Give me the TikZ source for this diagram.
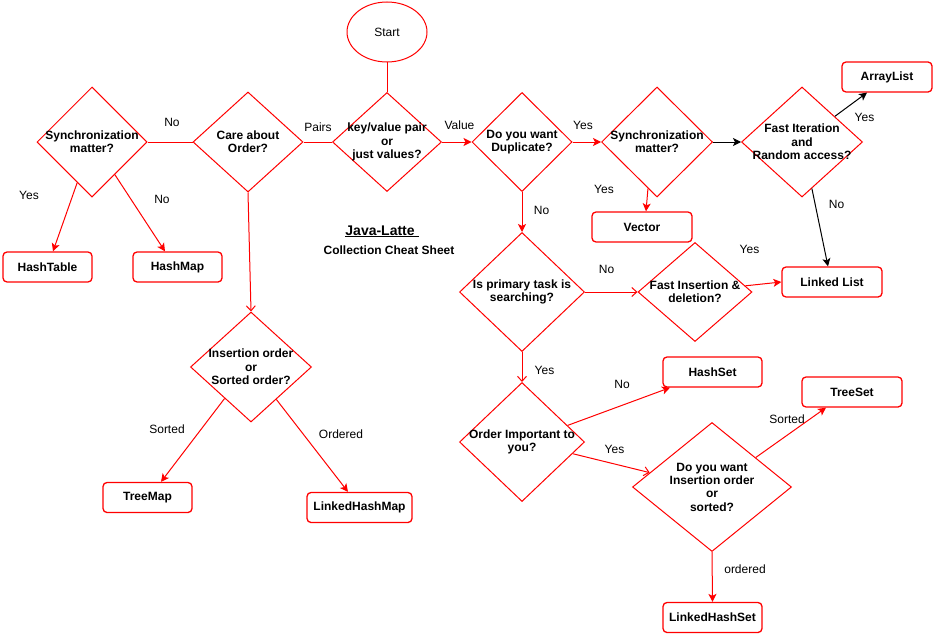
\documentclass[tikz,border=0pt]{standalone}
\usepackage{fontspec}
\setmainfont{Liberation Sans}
\usetikzlibrary{shapes.geometric,arrows.meta}
\definecolor{flowred}{RGB}{255,0,0}

\begin{document}
\begin{tikzpicture}[x=1pt,y=-1pt,
  txt/.style={font=\fontsize{12}{13.3}\selectfont},
  dia/.style 2 args={diamond, draw=flowred, line width=1pt, inner sep=0pt,
    minimum width=#1pt, minimum height=#2pt},
  dtxt/.style={txt, font=\fontsize{12}{13.3}\selectfont\bfseries, align=center, inner sep=0pt},
  box/.style={draw=flowred, line width=1.3pt, rounded corners=4pt, inner sep=0pt,
    minimum width=#1pt, minimum height=30pt, font=\fontsize{12}{13.3}\selectfont\bfseries},
  ell/.style={ellipse, draw=flowred, line width=1pt, inner sep=0pt,
    minimum width=80pt, minimum height=60pt, txt},
  lbl/.style={txt, inner sep=0pt},
  conn/.style={draw=flowred, line width=1pt},
  bconn/.style={draw=black, line width=1pt},
  blk/.style={-{Stealth[length=8pt,width=8pt,inset=2pt]}},
  opn/.style={-{Straight Barb[length=5pt,width=9pt]}}
]
\useasboundingbox[fill=white] (0,0) rectangle (934,634);

% start and decision nodes
\node[ell] (start) at (387,32) {Start};
\node[dia={109}{99}, label={[dtxt]center:{key/value pair\\or\\just values?}}] (kv) at (387,142) {};
\node[dia={100}{99}, label={[dtxt]center:{Do you want\\Duplicate?}}] (dup) at (522,142) {};
\node[dia={110}{100}, label={[dtxt]center:{Care about\\Order?}}] (care) at (248,142) {};
\node[dia={110}{110}, label={[dtxt]center:{Synchronization\\matter?}}] (syncm) at (92,142) {};
\node[dia={121}{110}, label={[dtxt]center:{Insertion order\\or\\Sorted order?}}] (insm) at (251,367) {};
\node[dia={111}{110}, label={[dtxt]center:{Synchronization\\matter?}}] (syncl) at (657,142) {};
\node[dia={121}{110}, label={[dtxt]center:{Fast Iteration\\and\\Random access?}}] (fast) at (802,142) {};
\node[dia={125}{119}, label={[dtxt]center:{Is primary task is\\searching?}}] (search) at (522,292) {};
\node[dia={114}{99}, label={[dtxt]center:{Fast Insertion \&\\deletion?}}] (fins) at (695,292) {};
\node[dia={125}{119}, label={[dtxt]center:{Order Important to\\you?}}] (ordimp) at (522,442) {};
\node[dia={159}{129}, label={[dtxt]center:{Do you want\\Insertion order\\or\\sorted?}}] (inss) at (712,487) {};

% collection boxes
\node[box=89] (htab) at (47.5,267) {HashTable};
\node[box=89] (hmap) at (177.5,267) {HashMap};
\node[box=89] (tmap) at (147.5,497.5) {TreeMap};
\node[box=105] (lhmap) at (359.5,507.5) {LinkedHashMap};
\node[box=90] (alist) at (887,77) {ArrayList};
\node[box=100] (vec) at (642,227) {Vector};
\node[box=100] (llist) at (832,282) {Linked List};
\node[box=99] (hset) at (712.5,372) {HashSet};
\node[box=100] (tset) at (852,392) {TreeSet};
\node[box=99] (lhset) at (712.5,617.5) {LinkedHashSet};

% title
\node[anchor=base, inner sep=0pt, font=\fontsize{14}{16}\selectfont\bfseries] (title) at (382,235) {\underline{Java-Latte\ }};
\node[anchor=base, inner sep=0pt, font=\fontsize{12}{14}\selectfont\bfseries] (subtitle) at (389,254) {Collection Cheat Sheet};

% connectors: maps side
\draw[conn] (start.south) -- (kv.north);
\draw[conn] (kv.west) -- (care.east);
\draw[conn] (care.west) -- (syncm.east);
\draw[conn, blk] (syncm.250) -- ([xshift=5.5pt]htab.north);
\draw[conn, blk] (syncm.305) -- ([xshift=-12.5pt]hmap.north);
\draw[conn, opn] (care.south) -- (insm.north);
\draw[conn, blk] (insm.230) -- ([xshift=13.5pt]tmap.north);
\draw[conn, blk] (insm.308) -- ([xshift=-11.5pt]lhmap.north);

% connectors: values side
\draw[conn, blk] (kv.east) -- (dup.west);
\draw[conn, blk] (dup.east) -- (syncl.west);
\draw[bconn, blk] (syncl.east) -- (fast.west);
\draw[bconn, blk] (fast.38) -- ([xshift=-20pt]alist.south);
\draw[bconn, blk] (fast.282) -- ([xshift=-4pt]llist.north);
\draw[conn, blk] (syncl.259) -- ([xshift=4pt]vec.north);
\draw[conn, blk] (dup.south) -- (search.north);
\draw[conn, opn] (search.east) -- (fins.west);
\draw[conn, blk] (fins.7) -- (llist.west);
\draw[conn, opn] (search.south) -- (ordimp.north);
\draw[conn, blk] (ordimp.20) -- ([xshift=-42.5pt]hset.south);
\draw[conn, opn] (ordimp.347) -- (inss.167);
\draw[conn, blk] (inss.34) -- ([xshift=-26pt]tset.south);
\draw[conn, blk] (inss.south) -- (lhset.north);

% connector labels
\node[lbl] (lpairs) at (318,127) {Pairs};
\node[lbl] (lno1) at (172,122) {No};
\node[lbl] (lyes1) at (29,195) {Yes};
\node[lbl] (lno2) at (162,199) {No};
\node[lbl] (lsorted1) at (167,429) {Sorted};
\node[lbl] (lordered1) at (341,434) {Ordered};
\node[lbl] (lvalue) at (459.5,125) {Value};
\node[lbl] (lyes2) at (583,125) {Yes};
\node[lbl] (lno3) at (541.5,210) {No};
\node[lbl] (lyes3) at (864.5,117) {Yes};
\node[lbl] (lno4) at (836.5,204) {No};
\node[lbl] (lyes4) at (604,189) {Yes};
\node[lbl] (lyes5) at (749.5,249) {Yes};
\node[lbl] (lno5) at (606.5,269) {No};
\node[lbl] (lyes6) at (544.5,370) {Yes};
\node[lbl] (lno6) at (622,384) {No};
\node[lbl] (lyes7) at (614.5,449) {Yes};
\node[lbl] (lsorted2) at (787,419) {Sorted};
\node[lbl] (lordered2) at (745,569) {ordered};
\end{tikzpicture}
\end{document}
